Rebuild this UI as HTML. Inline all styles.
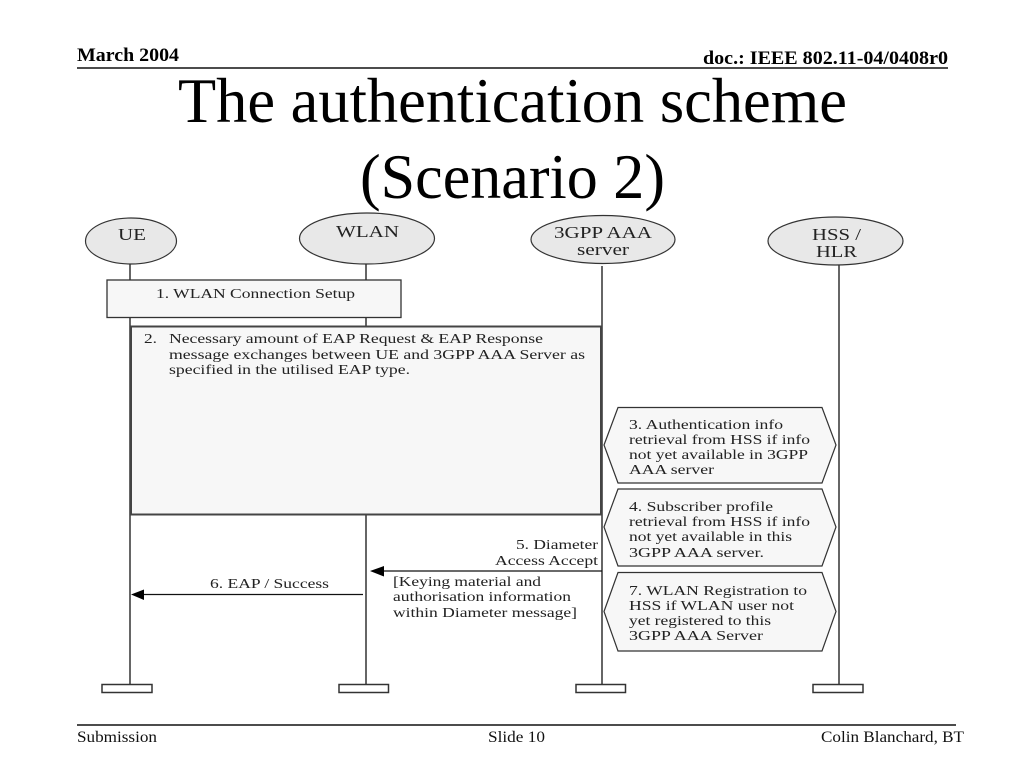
<!DOCTYPE html>
<html lang="en">
<head>
<meta charset="utf-8">
<title>The authentication scheme (Scenario 2)</title>
<style>
html,body{margin:0;padding:0;background:#fff;width:1024px;height:768px;overflow:hidden}
svg{display:block}
text{font-family:"Liberation Serif",serif;fill:#111}
.d{font-size:13.8px;fill:#222}
.n{font-size:16.5px;fill:#222}
.h{font-size:19px;font-weight:bold;fill:#000}
.f{font-size:16px;fill:#111}
.t{font-size:64px;fill:#000}
</style>
</head>
<body>
<svg width="1024" height="768" viewBox="0 0 1024 768" xmlns="http://www.w3.org/2000/svg">
<text class="h" x="77" y="61" textLength="102" lengthAdjust="spacingAndGlyphs">March 2004</text>
<text class="h" x="703" y="64" textLength="245" lengthAdjust="spacingAndGlyphs">doc.: IEEE 802.11-04/0408r0</text>
<line x1="77" y1="68" x2="948" y2="68" stroke="#111" stroke-width="1.5"/>
<text class="t" x="178" y="122" textLength="669" lengthAdjust="spacingAndGlyphs">The authentication scheme</text>
<text class="t" x="360" y="198" textLength="305" lengthAdjust="spacingAndGlyphs">(Scenario 2)</text>

<g stroke="#333" stroke-width="1.5" fill="none">
<line x1="130" y1="264" x2="130" y2="684"/>
<line x1="366" y1="264" x2="366" y2="684"/>
<line x1="602" y1="266" x2="602" y2="684"/>
<line x1="839" y1="265" x2="839" y2="684"/>
<rect x="102" y="684.5" width="50" height="8" fill="#fff"/>
<rect x="339" y="684.5" width="49.500" height="8" fill="#fff"/>
<rect x="576" y="684.5" width="49.500" height="8" fill="#fff"/>
<rect x="813" y="684.5" width="50" height="8" fill="#fff"/>
</g>

<g fill="#e8e8e8" stroke="#333" stroke-width="1.2">
<ellipse cx="131" cy="241" rx="45.500" ry="23"/>
<ellipse cx="367" cy="238.500" rx="67.500" ry="25.500"/>
<ellipse cx="603" cy="239.500" rx="72" ry="24"/>
<ellipse cx="835.500" cy="241" rx="67.500" ry="24"/>
</g>
<text class="n" x="118" y="240" textLength="28" lengthAdjust="spacingAndGlyphs">UE</text>
<text class="n" x="336" y="237" textLength="63" lengthAdjust="spacingAndGlyphs">WLAN</text>
<text class="n" x="554" y="238" textLength="98" lengthAdjust="spacingAndGlyphs">3GPP AAA</text>
<text class="n" x="577" y="255" textLength="52" lengthAdjust="spacingAndGlyphs">server</text>
<text class="n" x="812" y="240" textLength="49" lengthAdjust="spacingAndGlyphs">HSS /</text>
<text class="n" x="816" y="257" textLength="41" lengthAdjust="spacingAndGlyphs">HLR</text>

<rect x="107" y="280" width="294" height="37.500" fill="#f7f7f7" stroke="#333" stroke-width="1.3"/>
<text class="d" x="156" y="298" textLength="199" lengthAdjust="spacingAndGlyphs">1. WLAN Connection Setup</text>

<rect x="131" y="326.500" width="470" height="188" fill="#f7f7f7" stroke="#444" stroke-width="2"/>
<text class="d" x="144" y="343" textLength="13" lengthAdjust="spacingAndGlyphs">2.</text>
<text class="d" x="169" y="343" textLength="374" lengthAdjust="spacingAndGlyphs">Necessary amount of EAP Request &amp; EAP Response</text>
<text class="d" x="169" y="359" textLength="416" lengthAdjust="spacingAndGlyphs">message exchanges between UE and 3GPP AAA Server as</text>
<text class="d" x="169" y="374" textLength="241" lengthAdjust="spacingAndGlyphs">specified in the utilised EAP type.</text>

<g fill="#f7f7f7" stroke="#333" stroke-width="1.2">
<polygon points="604,445 618,407.500 822,407.500 836,445 822,483 618,483"/>
<polygon points="604,527 618,489 822,489 836,527 822,566 618,566"/>
<polygon points="604,611.500 618,572.500 822,572.500 836,611.500 822,651 618,651"/>
</g>
<text class="d" x="629" y="429" textLength="154" lengthAdjust="spacingAndGlyphs">3. Authentication info</text>
<text class="d" x="629" y="444" textLength="181" lengthAdjust="spacingAndGlyphs">retrieval from HSS if info</text>
<text class="d" x="629" y="459" textLength="179" lengthAdjust="spacingAndGlyphs">not yet available in 3GPP</text>
<text class="d" x="629" y="474" textLength="85" lengthAdjust="spacingAndGlyphs">AAA server</text>
<text class="d" x="629" y="511" textLength="144" lengthAdjust="spacingAndGlyphs">4. Subscriber profile</text>
<text class="d" x="629" y="526" textLength="181" lengthAdjust="spacingAndGlyphs">retrieval from HSS if info</text>
<text class="d" x="629" y="541" textLength="163" lengthAdjust="spacingAndGlyphs">not yet available in this</text>
<text class="d" x="629" y="557" textLength="135" lengthAdjust="spacingAndGlyphs">3GPP AAA server.</text>
<text class="d" x="629" y="595" textLength="178" lengthAdjust="spacingAndGlyphs">7. WLAN Registration to</text>
<text class="d" x="629" y="610" textLength="165" lengthAdjust="spacingAndGlyphs">HSS if WLAN user not</text>
<text class="d" x="629" y="625" textLength="142" lengthAdjust="spacingAndGlyphs">yet registered to this</text>
<text class="d" x="629" y="640" textLength="134" lengthAdjust="spacingAndGlyphs">3GPP AAA Server</text>

<line x1="602" y1="571" x2="382" y2="571" stroke="#111" stroke-width="1.2"/>
<polygon points="370,571 384,566 384,576.500" fill="#000"/>
<line x1="363" y1="594.500" x2="142" y2="594.500" stroke="#111" stroke-width="1.2"/>
<polygon points="131,594.500 144,589.500 144,600" fill="#000"/>
<text class="d" x="516" y="549" textLength="82" lengthAdjust="spacingAndGlyphs">5. Diameter</text>
<text class="d" x="495" y="565" textLength="103" lengthAdjust="spacingAndGlyphs">Access Accept</text>
<text class="d" x="393" y="586" textLength="148" lengthAdjust="spacingAndGlyphs">[Keying material and</text>
<text class="d" x="393" y="601" textLength="178" lengthAdjust="spacingAndGlyphs">authorisation information</text>
<text class="d" x="393" y="617" textLength="184" lengthAdjust="spacingAndGlyphs">within Diameter message]</text>
<text class="d" x="210" y="588" textLength="119" lengthAdjust="spacingAndGlyphs">6. EAP / Success</text>

<line x1="77" y1="725" x2="956" y2="725" stroke="#111" stroke-width="1.5"/>
<text class="f" x="77" y="742" textLength="80" lengthAdjust="spacingAndGlyphs">Submission</text>
<text class="f" x="488" y="742" textLength="57" lengthAdjust="spacingAndGlyphs">Slide 10</text>
<text class="f" x="821" y="742" textLength="143" lengthAdjust="spacingAndGlyphs">Colin Blanchard, BT</text>
</svg>
</body>
</html>
